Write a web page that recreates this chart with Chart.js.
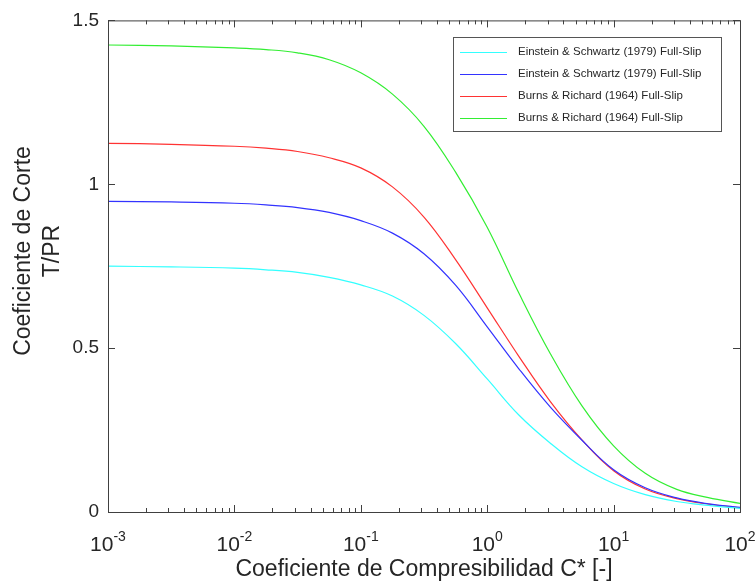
<!DOCTYPE html>
<html>
<head>
<meta charset="utf-8">
<script src="https://cdn.jsdelivr.net/npm/chart.js@4.4.1/dist/chart.umd.min.js"></script>
<style>
  html, body { margin: 0; padding: 0; background: #fff; }
  #wrap { width: 756px; height: 583px; position: relative; }
</style>
</head>
<body>
<div id="wrap"><canvas id="chartCanvas"></canvas></div>
<script>
// C* values, read at quarter decades
const compresibilidad = [0.001, 0.00316, 0.01, 0.0178, 0.0316, 0.0562, 0.1, 0.178, 0.316, 0.562, 1, 1.78, 3.16, 5.62, 10, 17.8, 31.6, 56.2, 100];
// T/PR
const einsteinCyan = [0.750, 0.748, 0.744, 0.739, 0.731, 0.716, 0.693, 0.659, 0.600, 0.514, 0.406, 0.296, 0.210, 0.138, 0.087, 0.053, 0.032, 0.020, 0.011];
const einsteinBlue = [0.948, 0.946, 0.942, 0.937, 0.929, 0.914, 0.889, 0.851, 0.788, 0.692, 0.565, 0.437, 0.320, 0.219, 0.129, 0.074, 0.043, 0.025, 0.014];
const burnsRed = [1.125, 1.122, 1.116, 1.110, 1.100, 1.081, 1.050, 0.992, 0.900, 0.770, 0.623, 0.475, 0.337, 0.220, 0.126, 0.070, 0.041, 0.024, 0.013];
const burnsGreen = [1.425, 1.422, 1.416, 1.411, 1.401, 1.380, 1.340, 1.275, 1.177, 1.037, 0.869, 0.668, 0.483, 0.324, 0.202, 0.118, 0.069, 0.044, 0.026];

const seriesLabels = [
  "Einstein & Schwartz (1979) Full-Slip",
  "Einstein & Schwartz (1979) Full-Slip",
  "Burns & Richard (1964) Full-Slip",
  "Burns & Richard (1964) Full-Slip"
];
const seriesColors = ["#33ffff", "#3333ff", "#ff3333", "#33ee33"];
const yTicks = [0, 0.5, 1, 1.5];
const xTicks = [0.001, 0.01, 0.1, 1, 10, 100];
const xTickExp = ["-3", "-2", "-1", "0", "1", "2"];

const FONT = "'Liberation Sans', Arial, sans-serif";
const AXIS_COLOR = "#404040";
const TEXT_COLOR = "#262626";

function toPoints(values) {
  return values.map((v, i) => ({ x: compresibilidad[i], y: v }));
}

// box, MATLAB-like inward ticks, x labels, titles and legend
const axesBox = {
  id: "axesBox",
  afterDraw(chart) {
    const { ctx, chartArea: a, scales: { x, y } } = chart;
    ctx.save();
    ctx.strokeStyle = AXIS_COLOR;
    ctx.lineWidth = 1;
    const seg = (x1, y1, x2, y2) => {
      ctx.beginPath(); ctx.moveTo(x1, y1); ctx.lineTo(x2, y2); ctx.stroke();
    };
    ctx.strokeRect(a.left + 0.5, a.top + 0.5, a.right - a.left, a.bottom - a.top);

    yTicks.forEach(v => {
      const py = Math.round(y.getPixelForValue(v)) + 0.5;
      seg(a.left, py, a.left + 7, py);
      seg(a.right, py, a.right - 7, py);
    });

    for (let e = -3; e <= 2; e++) {
      for (let m = 1; m <= 9; m++) {
        const v = m * Math.pow(10, e);
        if (v > 100.0001) break;
        const px = Math.round(x.getPixelForValue(v)) + 0.5;
        const len = m === 1 ? 7 : 4;
        seg(px, a.bottom, px, a.bottom - len);
        seg(px, a.top, px, a.top + len);
      }
    }

    // x tick labels 10^n
    ctx.fillStyle = TEXT_COLOR;
    ctx.textBaseline = "alphabetic";
    ctx.textAlign = "left";
    xTicks.forEach((v, i) => {
      const px = x.getPixelForValue(v);
      ctx.font = "21px " + FONT;
      const wBase = ctx.measureText("10").width;
      ctx.font = "14px " + FONT;
      const wExp = ctx.measureText(xTickExp[i]).width;
      const start = px - (wBase + wExp) / 2;
      ctx.font = "21px " + FONT;
      ctx.fillText("10", start, 551);
      ctx.font = "14px " + FONT;
      ctx.fillText(xTickExp[i], start + wBase, 541);
    });

    // axis titles
    ctx.font = "23px " + FONT;
    ctx.textAlign = "center";
    ctx.textBaseline = "alphabetic";
    ctx.fillText("Coeficiente de Compresibilidad C* [-]", (a.left + a.right) / 2, 576);

    ctx.save();
    ctx.translate(0, 251);
    ctx.rotate(-Math.PI / 2);
    ctx.textBaseline = "middle";
    ctx.fillText("Coeficiente de Corte", 0, 24);
    ctx.fillText("T/PR", 0, 53);
    ctx.restore();

    // legend
    const lx = 453, ly = 37, lw = 268, lh = 94;
    ctx.fillStyle = "#fff";
    ctx.fillRect(lx, ly, lw, lh);
    ctx.strokeStyle = "#555";
    ctx.strokeRect(lx + 0.5, ly + 0.5, lw, lh);
    ctx.font = "11.5px " + FONT;
    ctx.textAlign = "left";
    ctx.textBaseline = "middle";
    chart.data.datasets.forEach((ds, i) => {
      const ry = 52 + i * 22;
      ctx.strokeStyle = ds.borderColor;
      ctx.lineWidth = 1.2;
      seg(460, ry + 0.5, 507, ry + 0.5);
      ctx.fillStyle = TEXT_COLOR;
      ctx.fillText(ds.label, 518, ry);
    });
    ctx.restore();
  }
};

const ctx = document.getElementById("chartCanvas").getContext("2d");
new Chart(ctx, {
  type: "line",
  data: {
    datasets: [einsteinCyan, einsteinBlue, burnsRed, burnsGreen].map((vals, i) => ({
      label: seriesLabels[i],
      data: toPoints(vals),
      borderColor: seriesColors[i],
      borderWidth: 1.2,
      pointRadius: 0,
      fill: false,
      tension: 0.4
    }))
  },
  options: {
    responsive: true,
    maintainAspectRatio: false,
    animation: false,
    layout: { padding: { top: 17, right: 16, left: 0, bottom: 0 } },
    scales: {
      x: {
        type: "logarithmic",
        min: 0.001,
        max: 100,
        grid: { display: false },
        border: { display: false },
        ticks: { display: false },
        afterFit: s => { s.height = 71; }
      },
      y: {
        type: "linear",
        min: 0,
        max: 1.5,
        grid: { display: false, drawTicks: false },
        border: { display: false },
        ticks: {
          stepSize: 0.5,
          padding: 9,
          color: TEXT_COLOR,
          font: { family: FONT, size: 19 },
          callback: v => String(v)
        },
        afterFit: s => { s.width = 108; }
      }
    },
    plugins: {
      legend: { display: false },
      tooltip: { enabled: false }
    }
  },
  plugins: [axesBox]
});
</script>
</body>
</html>
